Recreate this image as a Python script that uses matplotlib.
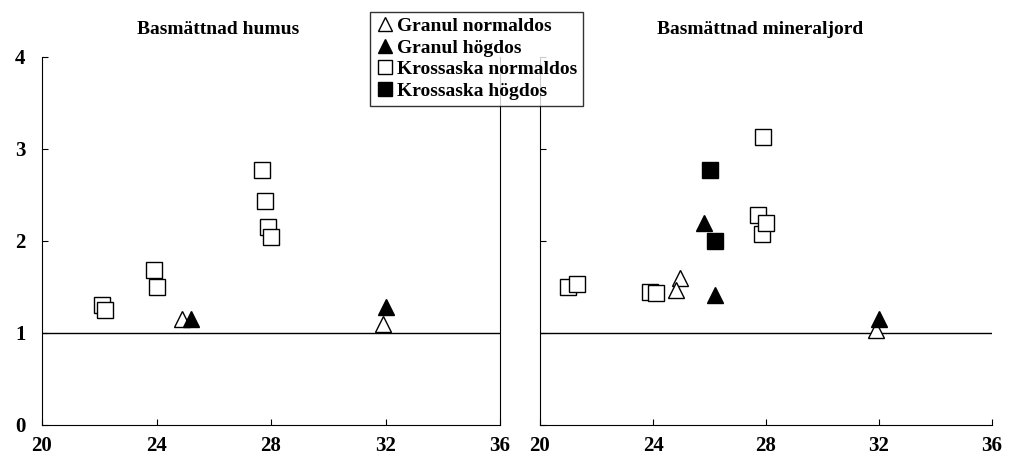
import matplotlib.pyplot as plt
from matplotlib.lines import Line2D

plt.rcParams['font.family'] = 'Liberation Serif'
plt.rcParams['font.weight'] = 'bold'

# left panel: Basmättnad humus
h_gn_x = [24.9, 31.9]; h_gn_y = [1.15, 1.10]
h_gh_x = [25.2, 32.0]; h_gh_y = [1.15, 1.28]
h_kn_x = [22.1, 22.2, 23.9, 24.0, 27.7, 27.8, 27.9, 28.0]
h_kn_y = [1.30, 1.25, 1.68, 1.50, 2.77, 2.44, 2.15, 2.04]
# right panel: Basmättnad mineraljord
m_gn_x = [24.95, 24.8, 31.9]; m_gn_y = [1.60, 1.47, 1.03]
m_gh_x = [25.8, 26.2, 32.0]; m_gh_y = [2.20, 1.41, 1.15]
m_kn_x = [21.0, 21.3, 23.9, 24.1, 27.7, 27.85, 28.0, 27.9]
m_kn_y = [1.50, 1.53, 1.45, 1.43, 2.28, 2.08, 2.20, 3.13]
m_kh_x = [26.0, 26.2]; m_kh_y = [2.77, 2.00]

dpi = 100
fig = plt.figure(figsize=(10.10, 4.71), dpi=dpi)
ax1 = fig.add_axes([42/1010, 46/471, 458/1010, 368/471])
ax2 = fig.add_axes([540/1010, 46/471, 452/1010, 368/471])

ms = 11
for ax in (ax1, ax2):
    ax.set_xlim(20, 36); ax.set_ylim(0, 4)
    ax.set_xticks([20, 24, 28, 32, 36]); ax.set_yticks([0, 1, 2, 3, 4])
    ax.axhline(1, color='black', lw=1)
    ax.spines['top'].set_visible(False)
    ax.tick_params(direction='in', labelsize=15, length=4)
    ax.tick_params(axis='x', pad=8)
    ax.tick_params(axis='y', pad=12)
    for t in ax.get_xticklabels() + ax.get_yticklabels():
        t.set_fontweight('bold')
ax2.spines['right'].set_visible(False)
ax2.set_yticklabels([])

def tri(ax, x, y, filled):
    ax.plot(x, y, '^', ms=ms, mfc='black' if filled else 'white', mec='black', ls='none', clip_on=False)

def sq(ax, x, y, filled):
    ax.plot(x, y, 's', ms=ms, mfc='black' if filled else 'white', mec='black', ls='none', clip_on=False)

sq(ax1, h_kn_x, h_kn_y, False)
tri(ax1, h_gn_x, h_gn_y, False)
tri(ax1, h_gh_x, h_gh_y, True)
sq(ax2, m_kn_x, m_kn_y, False)
sq(ax2, m_kh_x, m_kh_y, True)
tri(ax2, m_gn_x, m_gn_y, False)
tri(ax2, m_gh_x, m_gh_y, True)

fig.text(218/1010, 1 - 30/471, 'Basmättnad humus', ha='center', va='center', fontsize=14, fontweight='bold')
fig.text(760/1010, 1 - 30/471, 'Basmättnad mineraljord', ha='center', va='center', fontsize=14, fontweight='bold')

handles = [Line2D([], [], marker='^', ls='none', mfc='white', mec='black', ms=10),
           Line2D([], [], marker='^', ls='none', mfc='black', mec='black', ms=10),
           Line2D([], [], marker='s', ls='none', mfc='white', mec='black', ms=10),
           Line2D([], [], marker='s', ls='none', mfc='black', mec='black', ms=10)]
labels = ['Granul normaldos', 'Granul högdos', 'Krossaska normaldos', 'Krossaska högdos']
leg = fig.legend(handles, labels, loc='upper left', bbox_to_anchor=(360/1010, 1 - 2/471),
                 fontsize=14, frameon=True, fancybox=False, edgecolor='black',
                 handletextpad=0.1, handlelength=1.0, labelspacing=0.2, borderpad=0.3)
leg.get_frame().set_linewidth(1)
for t in leg.get_texts():
    t.set_fontweight('bold')

fig.savefig('out.png', dpi=dpi)
